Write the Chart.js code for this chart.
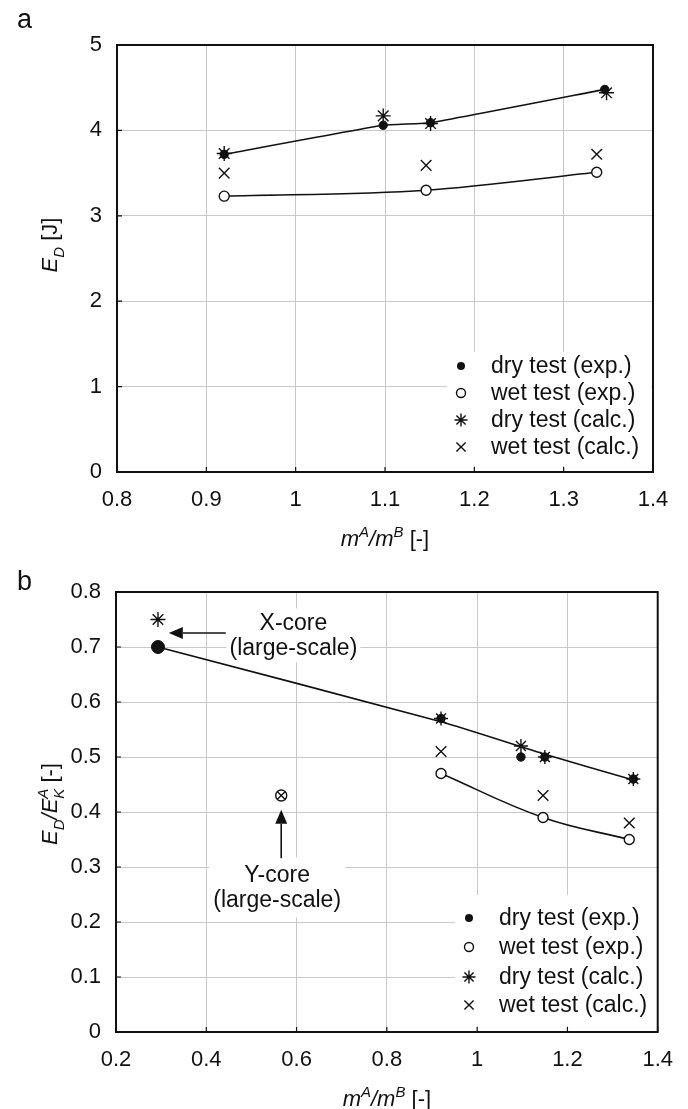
<!DOCTYPE html>
<html>
<head>
<meta charset="utf-8">
<style>
  html, body { margin: 0; padding: 0; background: #fff; }
  body { width: 688px; height: 1109px; overflow: hidden; position: relative; }
  canvas { position: absolute; left: 0; }
  #chartA { top: 0; }
  #chartB { top: 554px; }
</style>
<script src="https://cdn.jsdelivr.net/npm/chart.js@4.4.1/dist/chart.umd.min.js"></script>
</head>
<body>
<canvas id="chartA" width="688" height="554"></canvas>
<canvas id="chartB" width="688" height="555"></canvas>
<script>
// ---- panel a: E_D vs m^A/m^B ----
const aXTicks = [0.8, 0.9, 1, 1.1, 1.2, 1.3, 1.4];
const aYTicks = [0, 1, 2, 3, 4, 5];
const aDryExpX = [0.92, 1.098, 1.151, 1.346];
const aDryExpY = [3.72, 4.06, 4.09, 4.48];
const aWetExpX = [0.92, 1.146, 1.337];
const aWetExpY = [3.23, 3.30, 3.51];
const aDryCalcX = [0.92, 1.098, 1.151, 1.348];
const aDryCalcY = [3.73, 4.17, 4.08, 4.44];
const aWetCalcX = [0.92, 1.146, 1.337];
const aWetCalcY = [3.50, 3.59, 3.72];

// ---- panel b: E_D/E_K^A vs m^A/m^B ----
const bXTicks = [0.2, 0.4, 0.6, 0.8, 1, 1.2, 1.4];
const bYTicks = [0, 0.1, 0.2, 0.3, 0.4, 0.5, 0.6, 0.7, 0.8];
const bDryExpX = [0.293, 0.92, 1.097, 1.15, 1.346];
const bDryExpY = [0.70, 0.57, 0.50, 0.50, 0.46];
const bWetExpX = [0.566, 0.92, 1.146, 1.337];
const bWetExpY = [0.43, 0.47, 0.39, 0.35];
const bDryCalcX = [0.293, 0.92, 1.097, 1.15, 1.346];
const bDryCalcY = [0.75, 0.57, 0.52, 0.50, 0.46];
const bWetCalcX = [0.566, 0.92, 1.146, 1.337];
const bWetCalcY = [0.43, 0.51, 0.43, 0.38];
// fitted curves drawn through the test results
const bDryFitX = [0.293, 0.92, 1.15, 1.346];
const bDryFitY = [0.70, 0.564, 0.505, 0.458];
const bWetFitX = [0.92, 1.146, 1.337];
const bWetFitY = [0.47, 0.39, 0.35];

const legendLabels = ['dry test (exp.)', 'wet test (exp.)', 'dry test (calc.)', 'wet test (calc.)'];
const legendStyles = ['dot', 'circle', 'star', 'cross'];

const FONT = '"Liberation Sans", Arial, sans-serif';
const INK = '#111';

const xy = (xs, ys) => xs.map((x, i) => ({x, y: ys[i]}));
const fmt = v => String(Math.round(v * 10) / 10);

const titleX = [{t: 'm', it: 1}, {t: 'A', it: 1, sup: 1}, {t: '/', it: 1}, {t: 'm', it: 1}, {t: 'B', it: 1, sup: 1}, {t: ' [-]'}];

// per-canvas decoration (titles, legend, notes)
const decor = {
    chartA: {
        letter: 'a', letterY: 28,
        yTitle: [{t: 'E', it: 1}, {t: 'D', it: 1, sub: 1}, {t: ' [J]'}], yTitleY: 245,
        xTitleY: 546,
        legend: {left: 447, top: 352, w: 204, h: 114, mx: 461, tx: 491, rows: [366, 393, 420, 447]},
        notes: [],
        arrows: []
    },
    chartB: {
        letter: 'b', letterY: 36,
        yTitle: [{t: 'E', it: 1}, {t: 'D', it: 1, sub: 1}, {t: '/', it: 1}, {t: 'E', it: 1}, {t: 'K', it: 1, sub: 1, keep: 1}, {t: 'A', it: 1, sup: 1}, {t: ' [-]'}],
        yTitleY: 250,
        xTitleY: 552,
        legend: {left: 455, top: 341, w: 203, h: 131, mx: 469, tx: 499, rows: [364, 393, 423, 451]},
        notes: [
            {lines: ['X-core', '(large-scale)'], x: 0.593, y: 0.721, w: 134, h: 54},
            {lines: ['Y-core', '(large-scale)'], x: 0.557, y: 0.263, w: 136, h: 60}
        ],
        arrows: [
            {from: [0.443, 0.7255], to: [0.317, 0.7255]},
            {from: [0.566, 0.316], to: [0.566, 0.404]}
        ]
    }
};

function drawMarker(ctx, style, x, y, r) {
    ctx.save();
    ctx.strokeStyle = INK;
    ctx.fillStyle = INK;
    ctx.lineWidth = 1.4;
    ctx.beginPath();
    if (style === 'dot') {
        ctx.arc(x, y, r, 0, Math.PI * 2);
        ctx.fill();
    } else if (style === 'circle') {
        ctx.arc(x, y, r, 0, Math.PI * 2);
        ctx.stroke();
    } else {
        const d = r * 0.7071;
        ctx.moveTo(x - d, y - d); ctx.lineTo(x + d, y + d);
        ctx.moveTo(x + d, y - d); ctx.lineTo(x - d, y + d);
        if (style === 'star') {
            ctx.moveTo(x, y - r); ctx.lineTo(x, y + r);
            ctx.moveTo(x - r, y); ctx.lineTo(x + r, y);
        }
        ctx.stroke();
    }
    ctx.restore();
}

function drawRich(ctx, parts, cx, baseY, size) {
    const fontFor = p => `${p.it ? 'italic ' : ''}${(p.sub || p.sup) ? Math.round(size * 0.68) : size}px ${FONT}`;
    let w = 0;
    const widths = parts.map(p => {
        ctx.font = fontFor(p);
        const pw = ctx.measureText(p.t).width;
        if (!p.keep) w += pw;
        return pw;
    });
    let x = cx - w / 2;
    ctx.textAlign = 'left';
    ctx.textBaseline = 'alphabetic';
    parts.forEach((p, i) => {
        ctx.font = fontFor(p);
        const dy = p.sub ? size * 0.3 : p.sup ? -size * 0.42 : 0;
        ctx.fillText(p.t, x, baseY + dy);
        if (!p.keep) x += widths[i];
    });
}

function drawArrow(ctx, x0, y0, x1, y1) {
    const ang = Math.atan2(y1 - y0, x1 - x0);
    const hl = 14, hw = 6;
    const bx = x1 - Math.cos(ang) * hl, by = y1 - Math.sin(ang) * hl;
    ctx.beginPath();
    ctx.moveTo(x0, y0);
    ctx.lineTo(bx, by);
    ctx.stroke();
    ctx.beginPath();
    ctx.moveTo(x1, y1);
    ctx.lineTo(bx - Math.sin(ang) * hw, by + Math.cos(ang) * hw);
    ctx.lineTo(bx + Math.sin(ang) * hw, by - Math.cos(ang) * hw);
    ctx.closePath();
    ctx.fill();
}

const decorPlugin = {
    id: 'panelDecor',
    beforeDatasetsDraw(chart) {
        const d = decor[chart.canvas.id];
        const ctx = chart.ctx;
        const sx = chart.scales.x, sy = chart.scales.y;
        ctx.save();
        // legend on white box
        const L = d.legend;
        ctx.fillStyle = '#fff';
        ctx.fillRect(L.left, L.top, L.w, L.h);
        ctx.font = `23px ${FONT}`;
        ctx.textAlign = 'left';
        ctx.textBaseline = 'middle';
        legendLabels.forEach((lab, i) => {
            const st = legendStyles[i];
            const r = st === 'dot' ? 4 : st === 'circle' ? 4.5 : 6.5;
            drawMarker(ctx, st, L.mx, L.rows[i], r);
            ctx.fillStyle = INK;
            ctx.fillText(lab, L.tx, L.rows[i] + 1);
        });
        // text notes
        d.notes.forEach(n => {
            const cx = sx.getPixelForValue(n.x), cy = sy.getPixelForValue(n.y);
            ctx.fillStyle = '#fff';
            ctx.fillRect(cx - n.w / 2, cy - n.h / 2, n.w, n.h);
            ctx.fillStyle = INK;
            ctx.font = `23px ${FONT}`;
            ctx.textAlign = 'center';
            ctx.textBaseline = 'middle';
            n.lines.forEach((t, i) => ctx.fillText(t, cx, cy + (i - (n.lines.length - 1) / 2) * 25 + 1));
        });
        ctx.strokeStyle = INK;
        ctx.fillStyle = INK;
        ctx.lineWidth = 1.6;
        d.arrows.forEach(a => {
            drawArrow(ctx, sx.getPixelForValue(a.from[0]), sy.getPixelForValue(a.from[1]),
                sx.getPixelForValue(a.to[0]), sy.getPixelForValue(a.to[1]));
        });
        ctx.restore();
    },
    afterDraw(chart) {
        const d = decor[chart.canvas.id];
        const ctx = chart.ctx;
        const area = chart.chartArea;
        const sx = chart.scales.x, sy = chart.scales.y;
        ctx.save();
        // small inward tick marks
        ctx.strokeStyle = INK;
        ctx.lineWidth = 1.2;
        ctx.beginPath();
        sx.ticks.forEach(t => {
            const px = sx.getPixelForValue(t.value);
            ctx.moveTo(px, area.bottom); ctx.lineTo(px, area.bottom - 5);
        });
        sy.ticks.forEach(t => {
            const py = sy.getPixelForValue(t.value);
            ctx.moveTo(area.left, py); ctx.lineTo(area.left + 5, py);
        });
        ctx.stroke();
        // frame
        ctx.lineWidth = 2;
        ctx.strokeRect(area.left, area.top, area.right - area.left, area.bottom - area.top);
        // titles
        ctx.fillStyle = INK;
        drawRich(ctx, titleX, (area.left + area.right) / 2, d.xTitleY, 22);
        ctx.save();
        ctx.translate(57, d.yTitleY);
        ctx.rotate(-Math.PI / 2);
        drawRich(ctx, d.yTitle, 0, 0, 22);
        ctx.restore();
        // panel letter
        ctx.font = `27px ${FONT}`;
        ctx.textAlign = 'left';
        ctx.textBaseline = 'alphabetic';
        ctx.fillText(d.letter, 17, d.letterY);
        ctx.restore();
    }
};

const lineStyle = {showLine: true, pointRadius: 0, borderColor: INK, borderWidth: 1.6, fill: false, order: 9};
// exp. circles sit under the calc. crosses (Y-core point shows both)
const wetExpStyle = {pointStyle: 'circle', backgroundColor: '#fff', borderColor: INK, borderWidth: 1.4, order: 4};
const wetCalcStyle = {pointStyle: 'crossRot', borderColor: INK, borderWidth: 1.4, order: 3};
const dryExpStyle = {pointStyle: 'circle', backgroundColor: INK, borderColor: INK, borderWidth: 1, order: 2};
const dryCalcStyle = {pointStyle: 'star', borderColor: INK, borderWidth: 1.4, order: 1};

function makeScales(xr, yr, xTicks, yTicks, yWidth, xHeight) {
    const tickFont = {family: FONT, size: 22};
    const grid = {color: '#c8c8c8', lineWidth: 1, drawTicks: false};
    return {
        x: {
            type: 'linear', min: xr[0], max: xr[1],
            afterBuildTicks: s => { s.ticks = xTicks.map(v => ({value: v})); },
            afterFit: s => { s.height = xHeight; },
            grid, border: {display: false},
            ticks: {font: tickFont, color: INK, padding: 15, maxRotation: 0, autoSkip: false, callback: fmt}
        },
        y: {
            type: 'linear', min: yr[0], max: yr[1],
            afterBuildTicks: s => { s.ticks = yTicks.map(v => ({value: v})); },
            afterFit: s => { s.width = yWidth; },
            grid, border: {display: false},
            ticks: {font: tickFont, color: INK, padding: 15, autoSkip: false, callback: fmt}
        }
    };
}

function makeChart(id, datasets, padding, scales) {
    return new Chart(document.getElementById(id), {
        type: 'scatter',
        data: {datasets},
        options: {
            responsive: false,
            animation: false,
            events: [],
            layout: {padding},
            plugins: {legend: {display: false}, tooltip: {enabled: false}},
            scales
        },
        plugins: [decorPlugin]
    });
}

makeChart('chartA', [
    {...lineStyle, tension: 0.12, data: xy(aDryExpX, aDryExpY)},
    {...lineStyle, cubicInterpolationMode: 'monotone', data: xy(aWetExpX, aWetExpY)},
    {...wetExpStyle, pointRadius: 5, data: xy(aWetExpX, aWetExpY)},
    {...wetCalcStyle, pointRadius: 7.5, data: xy(aWetCalcX, aWetCalcY)},
    {...dryExpStyle, pointRadius: 4.2, data: xy(aDryExpX, aDryExpY)},
    {...dryCalcStyle, pointRadius: 7.5, data: xy(aDryCalcX, aDryCalcY)}
], {top: 45, right: 35, left: 0, bottom: 0}, makeScales([0.8, 1.4], [0, 5], aXTicks, aYTicks, 117, 82));

makeChart('chartB', [
    {...lineStyle, tension: 0.2, data: xy(bDryFitX, bDryFitY)},
    {...lineStyle, tension: 0.4, data: xy(bWetFitX, bWetFitY)},
    {...wetExpStyle, pointRadius: [5.5, 5, 5, 5], data: xy(bWetExpX, bWetExpY)},
    {...wetCalcStyle, pointRadius: [5, 7.5, 7.5, 7.5], data: xy(bWetCalcX, bWetCalcY)},
    {...dryExpStyle, pointRadius: [6.5, 4.2, 4.2, 4.2, 4.2], data: xy(bDryExpX, bDryExpY)},
    {...dryCalcStyle, pointRadius: [7.5, 7, 7, 7, 7], data: xy(bDryCalcX, bDryCalcY)}
], {top: 38, right: 28, left: 0, bottom: 0}, makeScales([0.2, 1.4], [0, 0.8], bXTicks, bYTicks, 116, 77));
</script>
</body>
</html>
